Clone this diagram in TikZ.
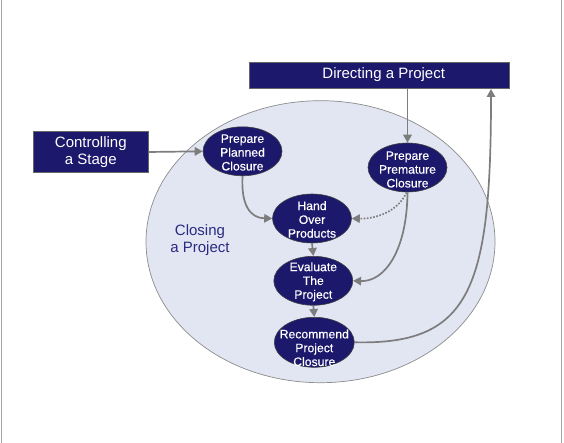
\documentclass[tikz,border=0pt]{standalone}
\usepackage{fontspec}
\setmainfont{Liberation Sans}
\newfontfamily\procfont{Liberation Sans}[FakeBold=0.35]
\usetikzlibrary{shapes.geometric,arrows.meta}
\definecolor{navy}{RGB}{28,24,108}
\definecolor{bigfill}{RGB}{226,230,242}
\definecolor{arrgrey}{RGB}{125,125,125}
\definecolor{closeblue}{RGB}{42,42,130}
\tikzset{
  proc/.style={ellipse, fill=navy, draw=black!75, line width=0.6pt, inner sep=0pt,
    minimum width=79pt, minimum height=49pt},
  ptext/.style={text=white, align=center, inner sep=0pt,
    font=\procfont\fontsize{12.2}{13.8}\selectfont},
  bigbox/.style={rectangle, fill=navy, draw=black!60, line width=0.6pt, inner sep=0pt,
    text=white, align=center, font=\fontsize{15}{16.7}\selectfont},
  arr/.style={draw=arrgrey, line width=1.7pt, -{Triangle[length=8pt,width=8.5pt]}, arrgrey},
  dotarr/.style={arr, dash pattern=on 1.6pt off 1.6pt},
}
\begin{document}
\begin{tikzpicture}[x=1pt,y=-1pt]
\useasboundingbox (0,0) rectangle (564,443);
% page edges
\draw[black!35, line width=1pt] (1,0) -- (1,443);
\draw[black!35, line width=1pt] (561.5,0) -- (561.5,443);
% big ellipse
\node[ellipse, fill=bigfill, draw=black!45, line width=0.7pt, inner sep=0pt,
  minimum width=349pt, minimum height=282pt] (cp) at (320.5,241.7) {};
\node[text=closeblue, align=center, font=\fontsize{15}{17.7}\selectfont] (cpt) at (200,240) {Closing\\a Project};
% boxes
\node[bigbox, minimum width=260pt, minimum height=26pt] (dp) at (379,75.7) {};
\node[text=white, font=\fontsize{15}{16.7}\selectfont, inner sep=0pt] (dpt) at (383.7,74.3) {Directing a Project};
\node[bigbox, minimum width=114.5pt, minimum height=40.6pt] (cs) at (90.8,152) {Controlling\\a Stage};
% processes
\node[proc] (pp) at (242.5,151.3) {};
\node[ptext] at ([yshift=-1.2pt]pp.center) {Prepare\\Planned\\Closure};
\node[proc] (pm) at (407.5,167.5) {};
\node[ptext] at ([yshift=-2pt]pm.center) {Prepare\\Premature\\Closure};
\node[proc] (ho) at (312,218.5) {};
\node[ptext] at ([yshift=-1pt]ho.center) {Hand\\Over\\Products};
\node[proc] (ev) at (313.3,280.8) {};
\node[ptext] at ([yshift=-1pt]ev.center) {Evaluate\\The\\Project};
\node[proc, minimum width=80pt, minimum height=50pt] (rc) at (314.3,342.3) {};
\node[ptext] at ([yshift=-5.5pt]rc.center) {Recommend\\Project\\Closure};
% connectors
\coordinate (rx) at (491,0);
\draw[arr] (cs.east) -- (pp.west);
\draw[arr] (dp.south -| pm.north) -- (pm.north);
\draw[arr] (pp.south) .. controls (241,205) and (250,218) .. (ho.west);
\draw[dotarr] ([xshift=-1pt]pm.south) .. controls (398,212) and (375,219) .. (ho.east);
\draw[arr] (pm.south) .. controls (407,250) and (385,282) .. (ev.east);
\draw[arr] (ho.south) -- (ev.north);
\draw[arr] (ev.south) -- (rc.north);
\draw[arr] (rc.east) .. controls (470,345) and (491,290) .. (dp.south -| rx);
\end{tikzpicture}
\end{document}
